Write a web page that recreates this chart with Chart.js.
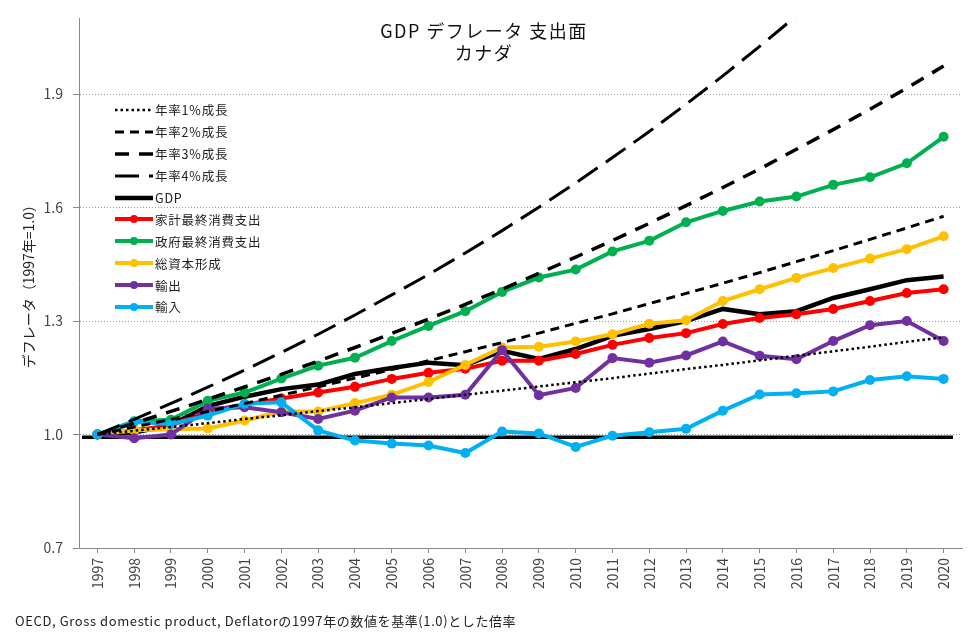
<!DOCTYPE html>
<html lang="ja">
<head>
<meta charset="utf-8">
<title>GDP デフレータ 支出面 カナダ</title>
<script src="https://cdn.jsdelivr.net/npm/chart.js@4"></script>
<style>
    html, body { margin: 0; padding: 0; background: #fff; }
    body { font-family: 'Noto Sans CJK JP', sans-serif; }
    #wrap { position: relative; width: 978px; height: 639px; }
    #title { position: absolute; left: 0; top: 19px; width: 968px; text-align: center; font-size: 18px; letter-spacing: 1.5px; line-height: 22px; color: #111; }
    #legend { position: absolute; left: 115px; top: 99px; font-size: 12.5px; letter-spacing: 0.8px; color: #222; }
    #legend .row { height: 21.9px; display: flex; align-items: center; }
    #legend svg { margin-right: 1px; }
    #note { position: absolute; left: 15px; top: 611px; font-size: 13px; letter-spacing: 0.6px; color: #222; white-space: nowrap; }
</style>
</head>
<body>
<div id="wrap">
    <canvas id="chart"></canvas>
    <div id="title">GDP デフレータ 支出面<br>カナダ</div>
    <div id="legend"></div>
    <div id="note">OECD, Gross domestic product, Deflatorの1997年の数値を基準(1.0)とした倍率</div>
</div>
<script>
// 年（横軸）
const years = ['1997', '1998', '1999', '2000', '2001', '2002', '2003', '2004', '2005', '2006', '2007', '2008',
    '2009', '2010', '2011', '2012', '2013', '2014', '2015', '2016', '2017', '2018', '2019', '2020'];

// 縦軸の目盛
const yTicks = [0.7, 1.0, 1.3, 1.6, 1.9];

// 1997年の水準線
const baseValue = 0.993;

// 年率成長の参考線
const growth1 = [1.000, 1.010, 1.020, 1.030, 1.041, 1.051, 1.062, 1.072, 1.083, 1.094, 1.105, 1.116,
    1.127, 1.138, 1.149, 1.161, 1.173, 1.184, 1.196, 1.208, 1.220, 1.232, 1.245, 1.257];
const growth2 = [1.000, 1.020, 1.040, 1.061, 1.082, 1.104, 1.126, 1.149, 1.172, 1.195, 1.219, 1.243,
    1.268, 1.294, 1.319, 1.346, 1.373, 1.400, 1.428, 1.457, 1.486, 1.516, 1.546, 1.577];
const growth3 = [1.000, 1.030, 1.061, 1.093, 1.126, 1.159, 1.194, 1.230, 1.267, 1.305, 1.344, 1.384,
    1.426, 1.469, 1.513, 1.558, 1.605, 1.653, 1.702, 1.754, 1.806, 1.860, 1.916, 1.974];
const growth4 = [1.000, 1.040, 1.082, 1.125, 1.170, 1.217, 1.265, 1.316, 1.369, 1.423, 1.480, 1.539,
    1.601, 1.665, 1.732, 1.801, 1.873, 1.948, 2.026, 2.107, 2.191, 2.279, 2.370, 2.465];

// デフレータ（1997年=1.0）
const gdp = [1.000, 1.005, 1.025, 1.075, 1.100, 1.120, 1.132, 1.160, 1.176, 1.190, 1.183, 1.221,
    1.200, 1.226, 1.261, 1.279, 1.300, 1.332, 1.318, 1.326, 1.361, 1.384, 1.408, 1.418];
const household = [1.000, 1.011, 1.024, 1.063, 1.079, 1.095, 1.111, 1.126, 1.147, 1.163, 1.174, 1.195,
    1.195, 1.213, 1.237, 1.255, 1.268, 1.292, 1.308, 1.318, 1.332, 1.353, 1.374, 1.384];
const government = [1.000, 1.035, 1.039, 1.089, 1.111, 1.148, 1.182, 1.203, 1.247, 1.287, 1.326, 1.377,
    1.415, 1.436, 1.484, 1.512, 1.561, 1.591, 1.616, 1.629, 1.660, 1.680, 1.717, 1.787];
const capital = [1.000, 1.011, 1.014, 1.016, 1.037, 1.061, 1.061, 1.083, 1.105, 1.139, 1.184, 1.230,
    1.232, 1.246, 1.265, 1.293, 1.302, 1.353, 1.384, 1.414, 1.440, 1.465, 1.490, 1.524];
const exportsData = [1.000, 0.990, 1.000, 1.068, 1.072, 1.059, 1.041, 1.063, 1.098, 1.098, 1.105, 1.223,
    1.104, 1.123, 1.202, 1.190, 1.209, 1.246, 1.208, 1.199, 1.247, 1.289, 1.300, 1.247];
const importsData = [1.000, 1.034, 1.028, 1.050, 1.081, 1.085, 1.011, 0.984, 0.976, 0.971, 0.951, 1.008,
    1.003, 0.967, 0.997, 1.006, 1.015, 1.063, 1.106, 1.109, 1.114, 1.144, 1.154, 1.147];

Chart.defaults.font.family = "'Noto Sans CJK JP', sans-serif";

// 成長率の参考線
function growthLine(label, data, dash, width) {
    return {
        label: label,
        data: data,
        borderColor: '#000',
        borderWidth: width,
        borderDash: dash,
        pointRadius: 0,
        tension: 0,
        order: 0
    };
}

// 系列（マーカー付き）
function seriesLine(label, data, color, order) {
    return {
        label: label,
        data: data,
        borderColor: color,
        backgroundColor: color,
        borderWidth: 4,
        pointRadius: 5,
        pointBorderWidth: 0,
        pointBackgroundColor: color,
        tension: 0,
        order: order
    };
}

const datasets = [
    growthLine('年率1%成長', growth1, [2.5, 3], 2.5),
    growthLine('年率2%成長', growth2, [9, 6], 3),
    growthLine('年率3%成長', growth3, [14, 10], 3.5),
    growthLine('年率4%成長', growth4, [24, 10], 3),
    {
        label: 'GDP',
        data: gdp,
        borderColor: '#000',
        borderWidth: 4.5,
        pointRadius: 0,
        tension: 0,
        order: 6
    },
    seriesLine('家計最終消費支出', household, '#ff0000', 5),
    seriesLine('政府最終消費支出', government, '#00b050', 4),
    seriesLine('総資本形成', capital, '#ffc000', 3),
    seriesLine('輸出', exportsData, '#7030a0', 2),
    seriesLine('輸入', importsData, '#00b0f0', 1)
];

// 1997年水準の太線
const baseLinePlugin = {
    id: 'baseLine',
    beforeDatasetsDraw(chart) {
        const ctx = chart.ctx;
        const area = chart.chartArea;
        const y = chart.scales.y.getPixelForValue(baseValue);
        ctx.save();
        ctx.strokeStyle = '#000';
        ctx.lineWidth = 3.5;
        ctx.beginPath();
        ctx.moveTo(area.left + 3, y);
        ctx.lineTo(area.right - 9, y);
        ctx.stroke();
        ctx.restore();
    }
};

const chart = new Chart(document.getElementById('chart'), {
    type: 'line',
    data: { labels: years, datasets: datasets },
    options: {
        responsive: true,
        maintainAspectRatio: false,
        animation: false,
        layout: { padding: { top: 16, right: 16, left: 0, bottom: 0 } },
        plugins: {
            legend: { display: false },
            tooltip: { enabled: false }
        },
        scales: {
            x: {
                type: 'category',
                offset: true,
                afterFit: s => { s.height = 91; },
                border: { color: '#888', width: 1 },
                grid: { drawOnChartArea: false, color: '#888', tickLength: 5 },
                ticks: {
                    minRotation: 90,
                    maxRotation: 90,
                    autoSkip: false,
                    padding: 5,
                    color: '#444',
                    font: { size: 14 }
                }
            },
            y: {
                min: 0.7,
                max: 2.1,
                afterBuildTicks: s => { s.ticks = yTicks.map(v => ({ value: v })); },
                afterFit: s => { s.width = 79; },
                border: { color: '#888', width: 1, dash: [1, 2] },
                grid: { color: '#999', tickColor: '#888', tickLength: 6, tickBorderDash: [] },
                ticks: {
                    padding: 10,
                    color: '#444',
                    font: { size: 14 },
                    callback: v => Number(v).toFixed(1)
                },
                title: {
                    display: true,
                    text: 'デフレータ（1997年=1.0）',
                    color: '#222',
                    font: { size: 14 },
                    padding: { top: 20, bottom: 0 }
                }
            }
        }
    },
    plugins: [baseLinePlugin]
});

// 凡例（左上、データセットの線種から作る）
const legendEl = document.getElementById('legend');
chart.data.datasets.forEach(ds => {
    const row = document.createElement('div');
    row.className = 'row';
    const dash = ds.borderDash ? ds.borderDash.join(' ') : '';
    let svg = '<svg width="39" height="12">' +
        '<line x1="0" y1="6" x2="38" y2="6" stroke="' + ds.borderColor + '" stroke-width="' + ds.borderWidth + '"' +
        (dash ? ' stroke-dasharray="' + dash + '"' : '') + '/>';
    if (ds.pointRadius > 0) {
        svg += '<circle cx="19" cy="6" r="4" fill="' + ds.borderColor + '"/>';
    }
    svg += '</svg>';
    row.innerHTML = svg + '<span>' + ds.label + '</span>';
    legendEl.appendChild(row);
});
</script>
</body>
</html>
